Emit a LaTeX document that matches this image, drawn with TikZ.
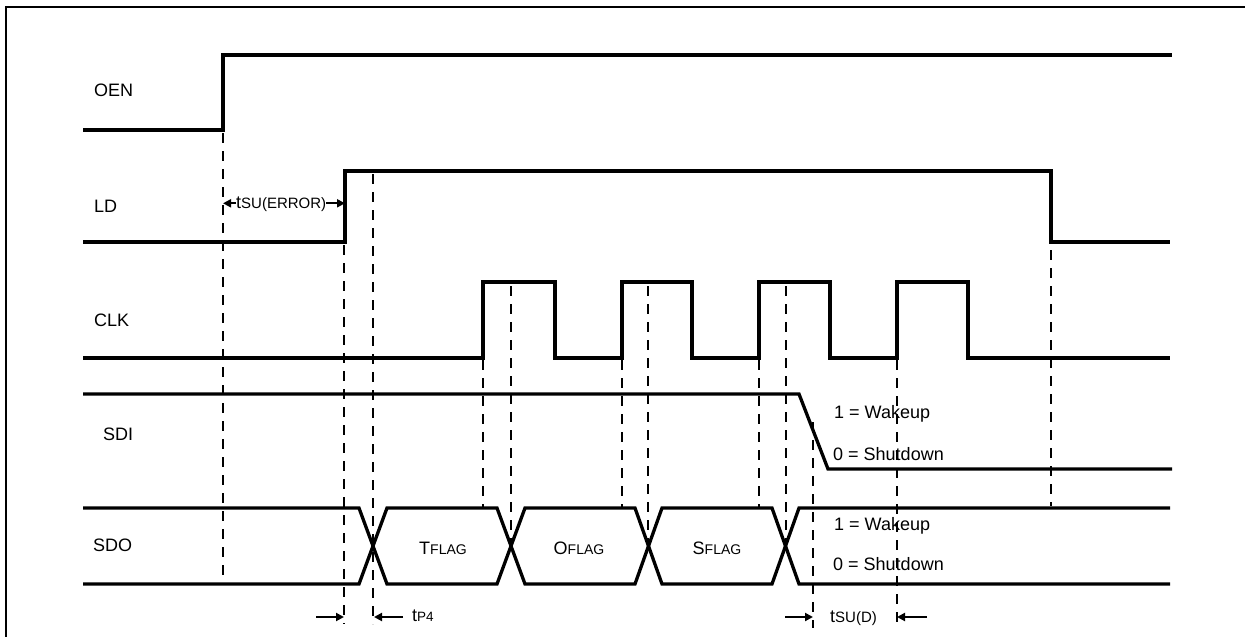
\documentclass[tikz,border=0pt]{standalone}
\usepackage{fontspec}
\setmainfont{Liberation Sans}
\usetikzlibrary{arrows.meta}
\newcommand{\fs}[1]{\fontsize{#1}{#1}\selectfont}
\begin{document}
\begin{tikzpicture}[x=1pt,y=-1pt,
  sig/.style={line width=3.3pt, line join=miter},
  guide/.style={line width=2.2pt, dash pattern=on 10pt off 8pt},
  dim/.style={line width=2.2pt, -{Triangle[length=8pt,width=8pt]}},
  lbl/.style={font=\fs{18}, anchor=base west, inner sep=0pt},
  dimtext/.style={anchor=base west, inner sep=0pt},
  flag/.style={anchor=base, inner sep=0pt},
]
\useasboundingbox (0,0) rectangle (1245,637);
% frame
\draw[line width=2.2pt] (6,640) -- (6,7) -- (1250,7);

% signal names
\node[lbl] (lOEN) at (94,96.7) {OEN};
\node[lbl] (lLD)  at (94,212.5) {LD};
\node[lbl] (lCLK) at (94,326.5) {CLK};
\node[lbl] (lSDI) at (103,440) {SDI};
\node[lbl] (lSDO) at (93,551.7) {SDO};

% OEN
\draw[sig] (83,130) -- (223,130) -- (223,55) -- (1172,55);
% LD
\draw[sig] (83,242) -- (345,242) -- (345,171) -- (1051,171) -- (1051,242) -- (1170,242);
% CLK
\draw[sig] (83,358) -| (483,282) -| (555,358) -| (622,282) -| (692,358) -| (759,282) -| (830,358) -| (897,282) -| (968,358) -- (1170,358);
% SDI
\draw[sig] (83,394) -- (799,394) -- (828,469) -- (1172,469);
% SDO
\draw[sig] (83,508) -- (359,508) -- (387,584) -- (497,584) -- (525,508) -- (635,508) -- (662,584) -- (772,584) -- (799,508) -- (1170,508);
\draw[sig] (83,584) -- (359,584) -- (387,508) -- (497,508) -- (525,584) -- (635,584) -- (662,508) -- (772,508) -- (799,584) -- (1170,584);

% flag labels
\node[flag] (tf) at (443,554) {{\fs{18}T}{\fs{14}FLAG}};
\node[flag] (of) at (579,554) {{\fs{18}O}{\fs{14}FLAG}};
\node[flag] (sf) at (717,554) {{\fs{18}S}{\fs{14}FLAG}};

% state texts
\node[lbl] (w1) at (834,418.3) {1 = Wakeup};
\node[lbl] (s1) at (833,460.7) {0 = Shutdown};
\node[lbl] (w2) at (834,530.7) {1 = Wakeup};
\node[lbl] (s2) at (833,570.7) {0 = Shutdown};

% dashed guides
\draw[guide] (223,133) -- (223,583);
\draw[guide] (344,245) -- (344,624);
\draw[guide] (373,174) -- (373,624);
\draw[guide] (483,360) -- (483,508);
\draw[guide] (511,286) -- (511,546);
\draw[guide] (622,360) -- (622,508);
\draw[guide] (648,286) -- (648,546);
\draw[guide] (759,360) -- (759,508);
\draw[guide] (786,286) -- (786,546);
\draw[guide] (813,422) -- (813,628);
\draw[guide] (897,360) -- (897,628);
\draw[guide] (1051,250) -- (1051,506);

% tSU(ERROR)
\node[dimtext] (tsue) at (236,208.7) {{\fs{18}t}{\fs{15}SU(ERROR)}};
\coordinate (tsueL) at (223,203.3);
\coordinate (tsueR) at (345,203.3);
\draw[dim] (tsue.west |- tsueL) -- (tsueL);
\draw[dim] (tsue.east |- tsueR) -- (tsueR);

% tP4
\coordinate (p4a) at (316,617);
\coordinate (p4b) at (344,617);
\coordinate (p4c) at (403,617);
\coordinate (p4d) at (374,617);
\draw[dim] (p4a) -- (p4b);
\draw[dim] (p4c) -- (p4d);
\node[dimtext] (tp4) at (412,621.7) {{\fs{18}t}{\fs{13.5}P4}};

% tSU(D)
\coordinate (sda) at (785,617);
\coordinate (sdb) at (813,617);
\coordinate (sdc) at (927,617);
\coordinate (sdd) at (897,617);
\draw[dim] (sda) -- (sdb);
\draw[dim] (sdc) -- (sdd);
\node[dimtext] (tsud) at (830,622.7) {{\fs{18}t}{\fs{15}SU(D)}};
\end{tikzpicture}
\end{document}
